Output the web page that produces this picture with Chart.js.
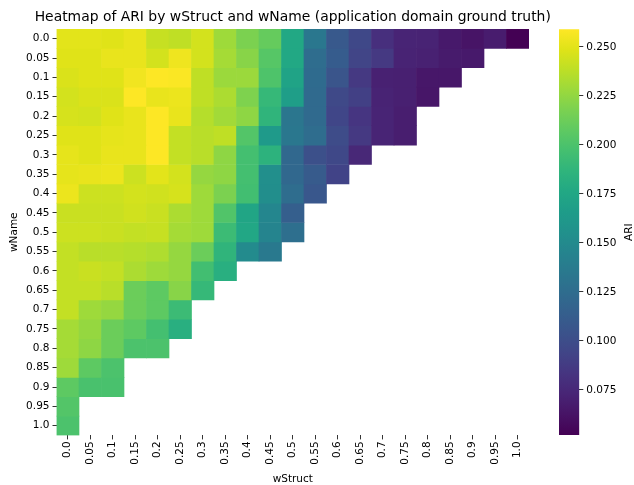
<!DOCTYPE html>
<html>
<head>
<meta charset="utf-8">
<script src="https://cdn.jsdelivr.net/npm/chart.js@4.4.1/dist/chart.umd.min.js"></script>
<style>
  html, body { margin: 0; padding: 0; background: #fff; }
  #wrap { position: relative; width: 634px; height: 485px; }
  #heat { position: absolute; left: 0; top: 0; }
  #cbar { position: absolute; left: 559px; top: 0; }
</style>
</head>
<body>
<div id="wrap">
  <canvas id="heat" width="634" height="485"></canvas>
  <canvas id="cbar" width="75" height="485"></canvas>
</div>
<script>
// Weight grid: columns are wStruct, rows are wName
const wStruct = ['0.0','0.05','0.1','0.15','0.2','0.25','0.3','0.35','0.4','0.45','0.5',
                 '0.55','0.6','0.65','0.7','0.75','0.8','0.85','0.9','0.95','1.0'];
const wName   = ['0.0','0.05','0.1','0.15','0.2','0.25','0.3','0.35','0.4','0.45','0.5',
                 '0.55','0.6','0.65','0.7','0.75','0.8','0.85','0.9','0.95','1.0'];

// ARI per wName row, indexed by wStruct column (only combinations that were run)
const ari = [
  [0.250,0.250,0.249,0.252,0.241,0.239,0.245,0.229,0.218,0.210,0.176,0.134,0.109,0.096,0.080,0.073,0.072,0.066,0.063,0.068,0.052],
  [0.249,0.249,0.252,0.252,0.245,0.254,0.245,0.231,0.222,0.204,0.176,0.125,0.112,0.094,0.086,0.072,0.071,0.067,0.066],
  [0.247,0.249,0.249,0.255,0.259,0.258,0.239,0.228,0.228,0.201,0.172,0.124,0.106,0.086,0.071,0.070,0.065,0.065],
  [0.245,0.247,0.247,0.259,0.252,0.253,0.239,0.233,0.219,0.190,0.168,0.123,0.097,0.091,0.072,0.070,0.064],
  [0.246,0.245,0.249,0.252,0.259,0.252,0.236,0.230,0.224,0.187,0.133,0.123,0.095,0.084,0.073,0.069],
  [0.249,0.249,0.251,0.252,0.259,0.240,0.237,0.239,0.203,0.164,0.134,0.125,0.099,0.086,0.073,0.069],
  [0.251,0.249,0.252,0.252,0.259,0.240,0.237,0.224,0.197,0.185,0.121,0.102,0.096,0.075],
  [0.251,0.252,0.253,0.243,0.250,0.245,0.226,0.224,0.197,0.154,0.121,0.111,0.093],
  [0.253,0.243,0.243,0.245,0.244,0.246,0.229,0.218,0.196,0.153,0.125,0.108],
  [0.242,0.242,0.242,0.244,0.242,0.233,0.229,0.202,0.174,0.147,0.114],
  [0.243,0.243,0.242,0.240,0.241,0.231,0.229,0.193,0.175,0.145,0.127],
  [0.240,0.237,0.237,0.236,0.234,0.226,0.212,0.187,0.151,0.136],
  [0.240,0.242,0.240,0.233,0.229,0.226,0.196,0.182],
  [0.240,0.240,0.237,0.212,0.207,0.222,0.190],
  [0.240,0.229,0.226,0.212,0.207,0.193],
  [0.231,0.226,0.212,0.207,0.197,0.182],
  [0.231,0.224,0.212,0.200,0.200],
  [0.229,0.207,0.200],
  [0.207,0.199,0.199],
  [0.203],
  [0.200]
];

const colorbarTicks = [0.075, 0.100, 0.125, 0.150, 0.175, 0.200, 0.225, 0.250];
const chartTitle = 'Heatmap of ARI by wStruct and wName (application domain ground truth)';

// viridis colormap, sampled every 0.05
const VIRIDIS = ['#440154','#471365','#482475','#463480','#414487','#3b528b','#355f8d',
  '#2f6c8e','#2a788e','#25848e','#21918c','#1e9c89','#22a884','#2fb47c','#44bf70',
  '#5ec962','#7ad151','#9bd93c','#bddf26','#dfe318','#fde725'];

function hexToRgb(h) {
  return [parseInt(h.slice(1,3),16), parseInt(h.slice(3,5),16), parseInt(h.slice(5,7),16)];
}
function viridis(t) {
  t = Math.max(0, Math.min(1, t));
  const p = t * (VIRIDIS.length - 1);
  const i = Math.min(VIRIDIS.length - 2, Math.floor(p));
  const f = p - i;
  const a = hexToRgb(VIRIDIS[i]), b = hexToRgb(VIRIDIS[i + 1]);
  const c = a.map((v, k) => Math.round(v + (b[k] - v) * f));
  return `rgb(${c[0]},${c[1]},${c[2]})`;
}

const allValues = ari.flat();
const vmin = Math.min(...allValues);
const vmax = Math.max(...allValues);

const FONT = 'DejaVu Sans, Liberation Sans, sans-serif';
const tickFont = { family: FONT, size: 10.5 };

// one floating-bar dataset per wName row; each bar spans one row band
const datasets = ari.map((row, i) => ({
  label: wName[i],
  data: wStruct.map((_, j) => (j < row.length ? [i - 0.5, i + 0.5] : null)),
  backgroundColor: wStruct.map((_, j) => (j < row.length ? viridis((row[j] - vmin) / (vmax - vmin)) : 'rgba(0,0,0,0)')),
  borderWidth: 0,
  grouped: false,
  barPercentage: 1,
  categoryPercentage: 1
}));

// title centred over the plotting area (not the whole canvas)
const axesTitle = {
  id: 'axesTitle',
  afterDraw(chart) {
    const { ctx, chartArea } = chart;
    ctx.save();
    ctx.fillStyle = '#000';
    ctx.font = `13.9px ${FONT}`;
    ctx.textAlign = 'center';
    ctx.textBaseline = 'middle';
    ctx.fillText(chartTitle, (chartArea.left + chartArea.right) / 2, 17.5);
    ctx.restore();
  }
};

new Chart(document.getElementById('heat'), {
  type: 'bar',
  data: { labels: wStruct, datasets },
  options: {
    responsive: false,
    devicePixelRatio: 1,
    animation: false,
    layout: { padding: { left: 0, right: 105, top: 29, bottom: 0 } },
    plugins: {
      legend: { display: false },
      tooltip: { enabled: false },
      title: { display: false }
    },
    scales: {
      x: {
        type: 'category',
        offset: true,
        grid: { display: true, drawOnChartArea: false, offset: false, tickLength: 4, color: '#000', lineWidth: 0.8 },
        border: { display: false },
        ticks: { autoSkip: false, minRotation: 90, maxRotation: 90, padding: 2, color: '#000', font: tickFont },
        title: { display: true, text: 'wStruct', color: '#000', font: { family: FONT, size: 10.5, lineHeight: 1.0 }, padding: { top: 0, bottom: 0 } },
        afterFit(s) { s.height = 49.6; }
      },
      y: {
        type: 'linear',
        reverse: true,
        min: -0.5,
        max: 20.5,
        afterBuildTicks(s) { s.ticks = wName.map((_, i) => ({ value: i })); },
        grid: { display: true, drawOnChartArea: false, tickLength: 4, color: '#000', lineWidth: 0.8 },
        border: { display: false },
        ticks: { autoSkip: false, padding: 3, color: '#000', font: tickFont, callback: (v) => wName[v] },
        title: { display: true, text: 'wName', color: '#000', font: tickFont, padding: { top: 8, bottom: 0 } },
        afterFit(s) { s.width = 56.5; }
      }
    }
  },
  plugins: [axesTitle]
});

// colorbar: a single floating bar from vmin to vmax filled with the colormap
const cbarLabel = {
  id: 'cbarLabel',
  afterDraw(chart) {
    const { ctx, chartArea } = chart;
    ctx.save();
    ctx.translate(chart.width - 5, (chartArea.top + chartArea.bottom) / 2);
    ctx.rotate(-Math.PI / 2);
    ctx.fillStyle = '#000';
    ctx.font = `10.5px ${FONT}`;
    ctx.textAlign = 'center';
    ctx.textBaseline = 'middle';
    ctx.fillText('ARI', 0, 0);
    ctx.restore();
  }
};

new Chart(document.getElementById('cbar'), {
  type: 'bar',
  data: {
    labels: ['ARI'],
    datasets: [{
      data: [[vmin, vmax]],
      backgroundColor: (ctx) => {
        const ca = ctx.chart.chartArea;
        if (!ca) return VIRIDIS[10];
        const g = ctx.chart.ctx.createLinearGradient(0, ca.bottom, 0, ca.top);
        VIRIDIS.forEach((c, k) => g.addColorStop(k / (VIRIDIS.length - 1), c));
        return g;
      },
      borderWidth: 0,
      barPercentage: 1,
      categoryPercentage: 1
    }]
  },
  options: {
    responsive: false,
    devicePixelRatio: 1,
    animation: false,
    layout: { padding: { top: 29.3, bottom: 50, left: 0, right: 0 } },
    plugins: { legend: { display: false }, tooltip: { enabled: false } },
    scales: {
      x: { display: false },
      y: {
        position: 'right',
        min: vmin,
        max: vmax,
        afterBuildTicks(s) { s.ticks = colorbarTicks.map(v => ({ value: v })); },
        grid: { display: true, drawOnChartArea: false, tickLength: 4, color: '#000', lineWidth: 0.8 },
        border: { display: false },
        ticks: { padding: 3, color: '#000', font: tickFont, callback: (v) => v.toFixed(3) },
        afterFit(s) { s.width = 75 - 20.3; }
      }
    }
  },
  plugins: [cbarLabel]
});
</script>
</body>
</html>
